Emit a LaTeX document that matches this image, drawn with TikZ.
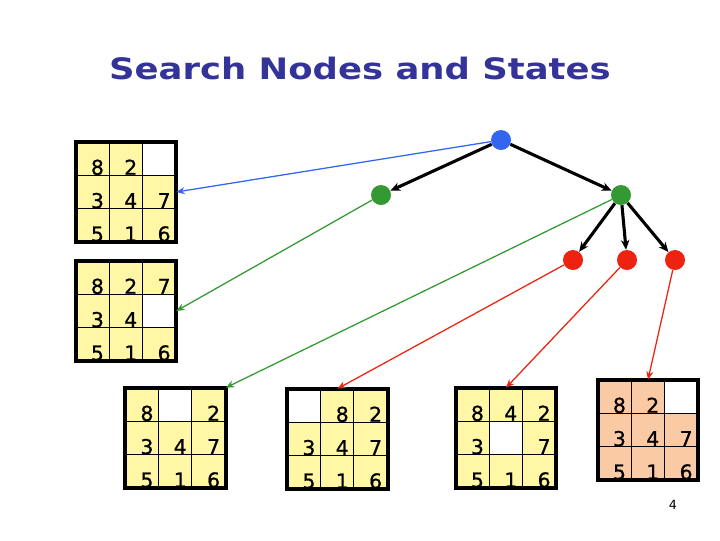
\documentclass[tikz,border=0pt]{standalone}
\usepackage{fontspec}
\setmainfont{DejaVu Sans}
\newfontfamily\titlefont[FakeStretch=1.2]{DejaVu Sans Bold}
\newfontfamily\tilefont[FakeBold=0.8]{DejaVu Sans}
\usepackage{xcolor}
\usepackage{tikz}
\usetikzlibrary{arrows.meta,positioning,calc}

\definecolor{titleblue}{RGB}{51,51,153}
\definecolor{tileyellow}{RGB}{255,247,165}
\definecolor{tilepeach}{RGB}{250,202,165}
\definecolor{rootblue}{RGB}{51,102,238}
\definecolor{nodegreen}{RGB}{51,153,51}
\definecolor{nodered}{RGB}{238,34,17}

% board: #1 name, #2 centre, #3 fill, #4/#5 blank column/row, #6 column/row/tile
\newcommand{\puzzle}[6]{%
  \node[board, fill=#3] (#1) at (#2) {};
  \fill[white] ($(#1.north west)+(#4*33.33,#5*33.33)$) rectangle +(33.33,33.33);
  \foreach \k in {1,2} {
    \draw[gridline] ($(#1.north west)+(\k*33.33,0)$) -- ($(#1.south west)+(\k*33.33,0)$);
    \draw[gridline] ($(#1.north west)+(0,\k*33.33)$) -- ($(#1.north east)+(0,\k*33.33)$);
  }
  \foreach \c/\r/\t in {#6} {
    \node[tile] (#1-\t) at ($(#1.north west)+(\c*33.33+28.5,\r*33.33+33)$) {\t};
  }
  \draw[frame] (#1.north west) rectangle (#1.south east);
}

\begin{document}
\begin{tikzpicture}[
  x=0.025cm, y=-0.025cm,
  >=Stealth,
  board/.style={rectangle, minimum size=2.5cm, inner sep=0pt},
  gridline/.style={line width=0.6pt},
  frame/.style={line width=2.6pt},
  tile/.style={anchor=base east, inner sep=0pt, font=\tilefont\fontsize{14.5}{16}\selectfont},
  state/.style={circle, minimum size=0.5cm, inner sep=0pt},
  tree/.style={line width=2.2pt, -{Stealth[length=7pt,width=6pt]}},
  link/.style={line width=0.9pt, -{Stealth[length=6pt,width=5pt]}},
]
\useasboundingbox (0,0) rectangle (720,540);

% Title
\node[font=\titlefont\fontsize{21}{24}\selectfont, text=titleblue] (title) at (360,68) {Search Nodes and States};

% Search tree
\node[state, fill=rootblue] (root) at (501,140) {};
\node[state, fill=nodegreen] (g1) at (381,195) {};
\node[state, fill=nodegreen] (g2) at (621,195) {};
\node[state, fill=nodered] (r1) at (573,260) {};
\node[state, fill=nodered] (r2) at (627,260) {};
\node[state, fill=nodered] (r3) at (675,260) {};

\draw[tree] (root) -- (g1);
\draw[tree] (root) -- (g2);
\foreach \n in {r1,r2,r3} {
  \draw[tree] (g2) -- (\n);
}

% States
\puzzle{s1}{126,192}{tileyellow}{2}{0}{0/0/8,1/0/2,0/1/3,1/1/4,2/1/7,0/2/5,1/2/1,2/2/6}
\puzzle{s2}{126,311}{tileyellow}{2}{1}{0/0/8,1/0/2,2/0/7,0/1/3,1/1/4,0/2/5,1/2/1,2/2/6}
\puzzle{s3}{175.5,438}{tileyellow}{1}{0}{0/0/8,2/0/2,0/1/3,1/1/4,2/1/7,0/2/5,1/2/1,2/2/6}
\puzzle{s4}{337.5,439}{tileyellow}{0}{0}{1/0/8,2/0/2,0/1/3,1/1/4,2/1/7,0/2/5,1/2/1,2/2/6}
\puzzle{s5}{506,438}{tileyellow}{1}{1}{0/0/8,1/0/4,2/0/2,0/1/3,2/1/7,0/2/5,1/2/1,2/2/6}
\puzzle{s6}{648,430}{tilepeach}{2}{0}{0/0/8,1/0/2,0/1/3,1/1/4,2/1/7,0/2/5,1/2/1,2/2/6}

% Node to state links
\draw[link, rootblue] (root) -- (s1.east);
\draw[link, nodegreen] (g1) -- (s2.east);
\draw[link, nodegreen] (g2) -- (s3.north east);
\draw[link, nodered] (r1) -- (s4.north);
\draw[link, nodered] (r2) -- (s5.north);
\draw[link, nodered] (r3) -- (s6.north);

% Page number
\node[font=\fontsize{9}{10}\selectfont] (pageno) at (673,505) {4};
\end{tikzpicture}
\end{document}
